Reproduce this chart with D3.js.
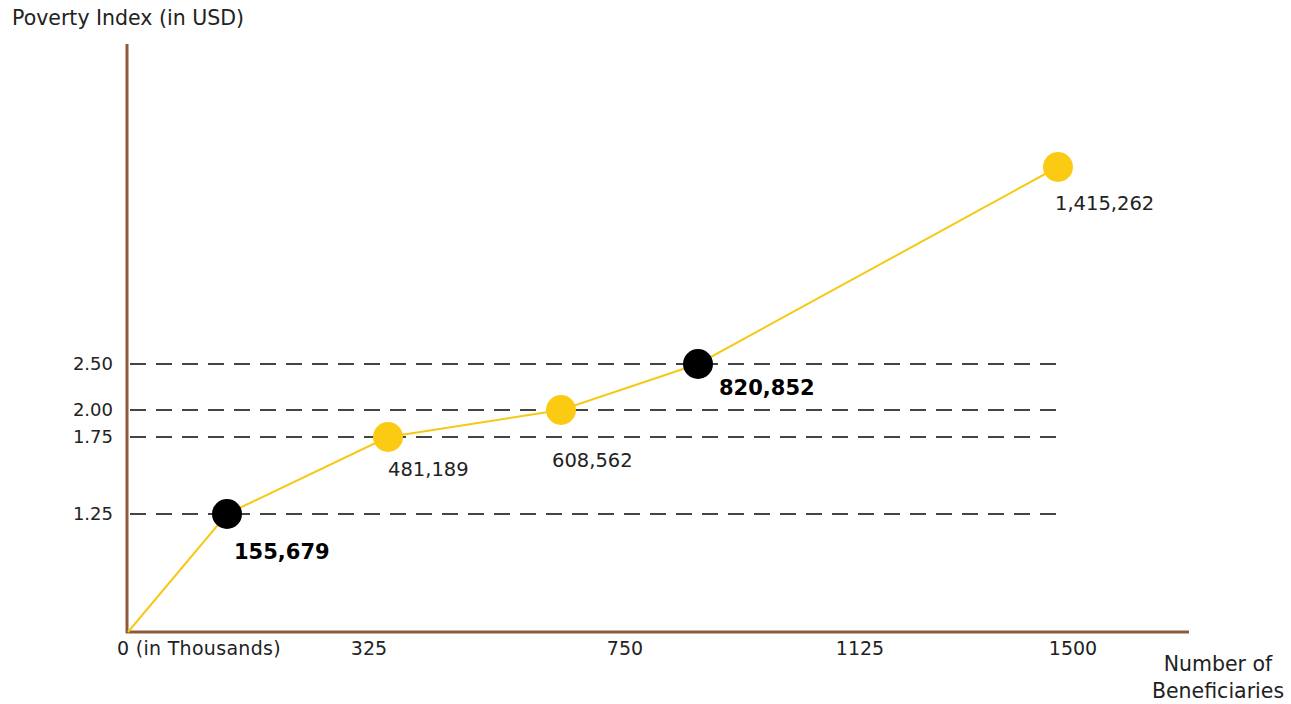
<!DOCTYPE html>
<html>
<head>
<meta charset="utf-8">
<script src="https://cdn.jsdelivr.net/npm/d3@7"></script>
<style>
  body { margin: 0; background: #fff; }
  svg text { font-family: "DejaVu Sans", sans-serif; fill: #222; }
</style>
</head>
<body>
<svg id="chart" width="1291" height="704"></svg>
<script>
// data (beneficiaries in thousands, poverty index in USD)
const beneficiaries = [0, 155.679, 481.189, 608.562, 820.852, 1415.262]
const povertyIndex = [0, 1.25, 1.75, 2.00, 2.50, 4.00]
const pointLabels = ['', '155,679', '481,189', '608,562', '820,852', '1,415,262']
const highlighted = [false, true, false, false, true, false]
const xTicks = [0, 325, 750, 1125, 1500]
const xTickLabels = ['0 (in Thousands)', '325', '750', '1125', '1500']
const yTicks = [1.25, 1.75, 2.00, 2.50]

const svg = d3.select('#chart')

// the drawing is schematic, so the axes are piecewise linear
const xStops = [0, 155.679, 325, 481.189, 608.562, 750, 820.852, 1125, 1415.262, 1500]
const xPix = [128, 227, 369, 388, 561, 625, 698, 860, 1058, 1073]
const x = d3.scaleLinear().domain(xStops).range(xPix)

const yStops = [0, 1.25, 1.75, 2.00, 2.50, 4.00]
const yPix = [632, 514, 437, 410, 364, 167]
const y = d3.scaleLinear().domain(yStops).range(yPix)

const data = beneficiaries.map((b, i) => ({
  b: b, v: povertyIndex[i], label: pointLabels[i], hi: highlighted[i]
}))

// label offsets from the dot, per point
const labelDx = { '155,679': 7, '481,189': 0, '608,562': -9, '820,852': 21, '1,415,262': -3 }
const labelDy = { '155,679': 45, '481,189': 39, '608,562': 57, '820,852': 31, '1,415,262': 43 }

// dashed guide lines
svg.append('g')
  .selectAll('line')
  .data(yTicks)
  .enter()
  .append('line')
  .attr('x1', 130)
  .attr('x2', 1062)
  .attr('y1', d => y(d))
  .attr('y2', d => y(d))
  .style('stroke', '#444')
  .style('stroke-width', 2)
  .style('stroke-dasharray', '16,10')

// y tick labels
svg.append('g')
  .selectAll('text')
  .data(yTicks)
  .enter()
  .append('text')
  .attr('x', 113)
  .attr('y', d => y(d) + 6)
  .attr('text-anchor', 'end')
  .style('font-size', '18px')
  .text(d => d3.format('.2f')(d))

// axes
svg.append('line')
  .attr('x1', 127).attr('x2', 127)
  .attr('y1', 44).attr('y2', 633)
  .style('stroke', '#8d5a3b')
  .style('stroke-width', 3)

svg.append('line')
  .attr('x1', 126).attr('x2', 1189)
  .attr('y1', 632).attr('y2', 632)
  .style('stroke', '#8d5a3b')
  .style('stroke-width', 3)

// x tick labels
svg.append('g')
  .selectAll('text')
  .data(xTicks)
  .enter()
  .append('text')
  .attr('x', (d, i) => i == 0 ? x(d) - 11 : x(d))
  .attr('y', 655)
  .attr('text-anchor', (d, i) => i == 0 ? 'start' : 'middle')
  .style('font-size', '19px')
  .style('letter-spacing', (d, i) => i == 0 ? '0.3px' : '0px')
  .text((d, i) => xTickLabels[i])

// the line
let line = d3.line()
  .x(d => x(d.b))
  .y(d => y(d.v))

svg.append('path')
  .datum(data)
  .attr('d', line)
  .style('fill', 'none')
  .style('stroke', '#f6c915')
  .style('stroke-width', 2)

let pts = data.filter(d => d.label)

svg.append('g')
  .selectAll('circle')
  .data(pts)
  .enter()
  .append('circle')
  .attr('cx', d => x(d.b))
  .attr('cy', d => y(d.v))
  .attr('r', 15)
  .style('fill', d => d.hi ? '#000' : '#fbcb14')

// point labels
svg.append('g')
  .selectAll('text')
  .data(pts)
  .enter()
  .append('text')
  .attr('x', d => x(d.b) + labelDx[d.label])
  .attr('y', d => y(d.v) + labelDy[d.label])
  .style('font-size', d => d.hi ? '21px' : '19.5px')
  .style('font-weight', d => d.hi ? 'bold' : 'normal')
  .style('fill', d => d.hi ? '#000' : '#222')
  .text(d => d.label)

// titles
svg.append('text')
  .attr('x', 12)
  .attr('y', 25)
  .style('font-size', '20.5px')
  .text('Poverty Index (in USD)')

let xTitle = svg.append('text')
  .attr('text-anchor', 'middle')
  .style('font-size', '20.5px')

xTitle.append('tspan').attr('x', 1218).attr('y', 671).text('Number of')
xTitle.append('tspan').attr('x', 1218).attr('y', 698).text('Beneficiaries')
</script>
</body>
</html>
